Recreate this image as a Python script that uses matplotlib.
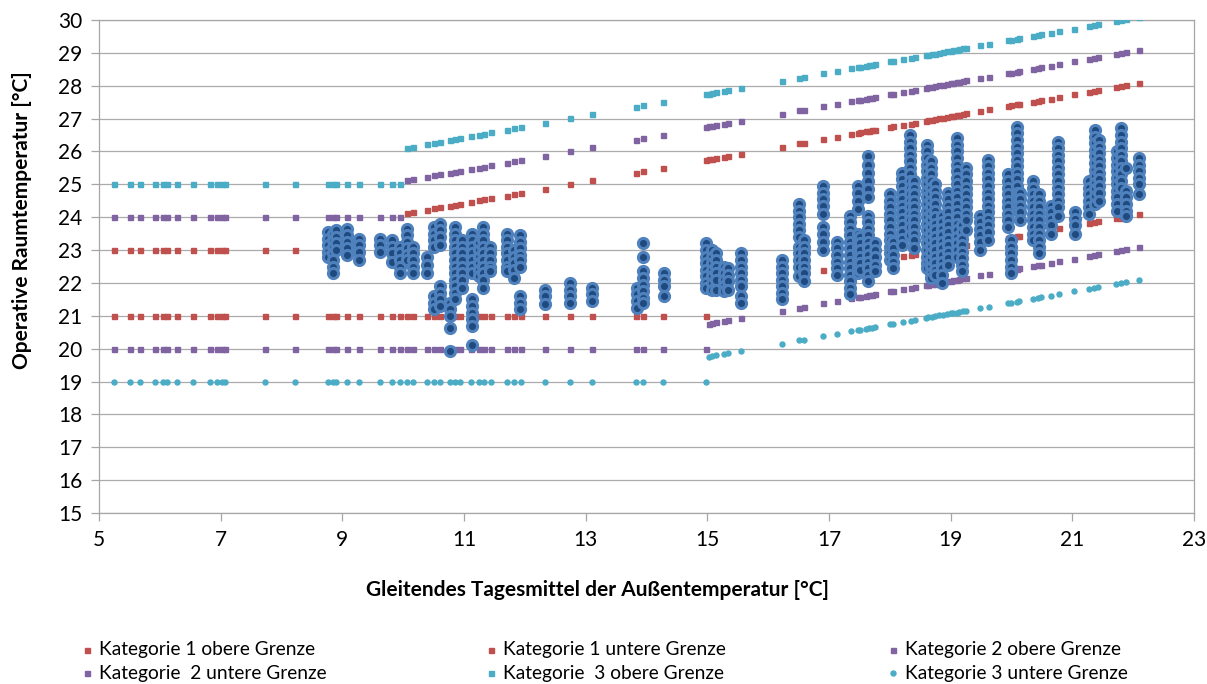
import matplotlib.pyplot as plt
from matplotlib.lines import Line2D

plt.rcParams['font.family'] = ['Lato', 'DejaVu Sans']

# Gleitendes Tagesmittel der Außentemperatur je Tag [°C]
tage_kalt = [5.24, 5.51, 5.68, 5.92, 6.06, 6.12, 6.29, 6.55, 6.83, 6.94, 7.03,
             7.07, 7.73, 8.22, 8.76, 8.85, 8.90, 9.07, 9.28, 9.62, 9.81, 9.95]
tage_mittel = [10.07, 10.16, 10.40, 10.51, 10.61, 10.77, 10.85, 10.93, 11.12, 11.24, 11.33,
               11.44, 11.70, 11.82, 11.94, 12.33, 12.75, 13.11, 13.83, 13.94, 14.27, 14.97]
tage_warm = [15.03, 15.07, 15.15, 15.27, 15.34, 15.55, 16.22, 16.50, 16.59, 16.90, 17.13,
             17.36, 17.47, 17.51, 17.60, 17.65, 17.70, 17.76, 18.00, 18.05, 18.21, 18.34,
             18.41, 18.59, 18.63, 18.69, 18.74, 18.81, 18.88, 18.94, 19.00, 19.04, 19.10,
             19.14, 19.20, 19.26, 19.49, 19.63, 19.95, 20.00, 20.09, 20.13, 20.36, 20.43,
             20.49, 20.65, 20.78, 21.03, 21.27, 21.36, 21.43, 21.72, 21.80, 21.89, 22.10]
tage = tage_kalt + tage_mittel + tage_warm

# Grenzwerte [°C]
kat1_oben = [23.0] * 22 + [
    24.12, 24.15, 24.23, 24.27, 24.30, 24.35, 24.38, 24.41, 24.47, 24.51, 24.54,
    24.58, 24.66, 24.70, 24.74, 24.87, 25.01, 25.13, 25.36, 25.40, 25.51, 25.74,
    25.76, 25.77, 25.80, 25.84, 25.86, 25.93, 26.15, 26.25, 26.27, 26.38, 26.45,
    26.53, 26.57, 26.58, 26.61, 26.62, 26.64, 26.66, 26.74, 26.76, 26.81, 26.85,
    26.88, 26.93, 26.95, 26.97, 26.98, 27.01, 27.03, 27.05, 27.07, 27.08, 27.10,
    27.12, 27.14, 27.16, 27.23, 27.28, 27.38, 27.40, 27.43, 27.44, 27.52, 27.54,
    27.56, 27.61, 27.66, 27.74, 27.82, 27.85, 27.87, 27.97, 27.99, 28.02, 28.09]
kat2_oben = [24.0] * 22 + [
    25.12, 25.15, 25.23, 25.27, 25.30, 25.35, 25.38, 25.41, 25.47, 25.51, 25.54,
    25.58, 25.66, 25.70, 25.74, 25.87, 26.01, 26.13, 26.36, 26.40, 26.51, 26.74,
    26.76, 26.77, 26.80, 26.84, 26.86, 26.93, 27.15, 27.25, 27.27, 27.38, 27.45,
    27.53, 27.57, 27.58, 27.61, 27.62, 27.64, 27.66, 27.74, 27.76, 27.81, 27.85,
    27.88, 27.93, 27.95, 27.97, 27.98, 28.01, 28.03, 28.05, 28.07, 28.08, 28.10,
    28.12, 28.14, 28.16, 28.23, 28.28, 28.38, 28.40, 28.43, 28.44, 28.52, 28.54,
    28.56, 28.61, 28.66, 28.74, 28.82, 28.85, 28.87, 28.97, 28.99, 29.02, 29.09]
kat3_oben = [25.0] * 22 + [
    26.12, 26.15, 26.23, 26.27, 26.30, 26.35, 26.38, 26.41, 26.47, 26.51, 26.54,
    26.58, 26.66, 26.70, 26.74, 26.87, 27.01, 27.13, 27.36, 27.40, 27.51, 27.74,
    27.76, 27.77, 27.80, 27.84, 27.86, 27.93, 28.15, 28.25, 28.27, 28.38, 28.45,
    28.53, 28.57, 28.58, 28.61, 28.62, 28.64, 28.66, 28.74, 28.76, 28.81, 28.85,
    28.88, 28.93, 28.95, 28.97, 28.98, 29.01, 29.03, 29.05, 29.07, 29.08, 29.10,
    29.12, 29.14, 29.16, 29.23, 29.28, 29.38, 29.40, 29.43, 29.44, 29.52, 29.54,
    29.56, 29.61, 29.66, 29.74, 29.82, 29.85, 29.87, 29.97, 29.99, 30.02, 30.09]
kat1_unten = [21.0] * 44 + [
    21.76, 21.77, 21.80, 21.84, 21.86, 21.93, 22.15, 22.25, 22.27, 22.38, 22.45,
    22.53, 22.57, 22.58, 22.61, 22.62, 22.64, 22.66, 22.74, 22.76, 22.81, 22.85,
    22.88, 22.93, 22.95, 22.97, 22.98, 23.01, 23.03, 23.05, 23.07, 23.08, 23.10,
    23.12, 23.14, 23.16, 23.23, 23.28, 23.38, 23.40, 23.43, 23.44, 23.52, 23.54,
    23.56, 23.61, 23.66, 23.74, 23.82, 23.85, 23.87, 23.97, 23.99, 24.02, 24.09]
kat2_unten = [20.0] * 44 + [
    20.76, 20.77, 20.80, 20.84, 20.86, 20.93, 21.15, 21.25, 21.27, 21.38, 21.45,
    21.53, 21.57, 21.58, 21.61, 21.62, 21.64, 21.66, 21.74, 21.76, 21.81, 21.85,
    21.88, 21.93, 21.95, 21.97, 21.98, 22.01, 22.03, 22.05, 22.07, 22.08, 22.10,
    22.12, 22.14, 22.16, 22.23, 22.28, 22.38, 22.40, 22.43, 22.44, 22.52, 22.54,
    22.56, 22.61, 22.66, 22.74, 22.82, 22.85, 22.87, 22.97, 22.99, 23.02, 23.09]
kat3_unten = [19.0] * 44 + [
    19.76, 19.77, 19.80, 19.84, 19.86, 19.93, 20.15, 20.25, 20.27, 20.38, 20.45,
    20.53, 20.57, 20.58, 20.61, 20.62, 20.64, 20.66, 20.74, 20.76, 20.81, 20.85,
    20.88, 20.93, 20.95, 20.97, 20.98, 21.01, 21.03, 21.05, 21.07, 21.08, 21.10,
    21.12, 21.14, 21.16, 21.23, 21.28, 21.38, 21.40, 21.43, 21.44, 21.52, 21.54,
    21.56, 21.61, 21.66, 21.74, 21.82, 21.85, 21.87, 21.97, 21.99, 22.02, 22.09]

# Gemessene operative Raumtemperatur je Tag [°C]
mess_x = [8.76, 8.85, 8.90, 9.07, 9.28, 9.62, 9.81, 9.95, 10.07, 10.16, 10.40, 10.51,
          10.61, 10.77, 10.85, 10.96, 11.13, 11.24, 11.32, 11.43, 11.70, 11.83, 11.92,
          12.33, 12.75, 13.11, 13.84, 13.94, 14.28, 14.97, 15.07, 15.15, 15.27, 15.34,
          15.55, 16.22, 16.50, 16.59, 16.90, 17.13, 17.35, 17.47, 17.51, 17.64, 17.76,
          18.00, 18.05, 18.20, 18.33, 18.40, 18.61, 18.67, 18.74, 18.85, 18.95, 19.10,
          19.19, 19.26, 19.48, 19.62, 19.95, 20.00, 20.09, 20.14, 20.35, 20.46, 20.65,
          20.77, 21.05, 21.28, 21.37, 21.44, 21.73, 21.80, 21.89, 22.09]
mess_t = [
    [23.55, 23.35, 23.15, 22.95, 22.8],
    [23.5, 23.3, 23.1, 22.9, 22.7, 22.5, 22.3],
    [23.6, 23.4, 23.2, 23.0],
    [23.65, 23.45, 23.25, 23.05, 22.85],
    [23.35, 23.15, 22.95, 22.7],
    [23.35, 23.15, 22.95],
    [23.3, 23.1, 22.9, 22.65],
    [23.1, 22.9, 22.7, 22.5, 22.3],
    [23.65, 23.45, 23.25, 23.05, 22.85, 22.7],
    [23.1, 22.9, 22.7, 22.5, 22.3],
    [22.8, 22.55, 22.3],
    [23.7, 23.5, 23.3, 23.1, 21.6, 21.4, 21.2],
    [23.8, 23.6, 23.4, 23.15, 21.9, 21.7, 21.5, 21.3],
    [21.4, 21.2, 21.0, 20.62, 19.93],
    [23.7, 23.5, 23.3, 23.1, 22.9, 22.7, 22.5, 22.3, 22.1, 21.9, 21.7, 21.5],
    [23.3, 23.1, 22.9, 22.7, 22.5, 22.3, 22.1, 21.85],
    [23.5, 23.3, 23.1, 22.9, 22.7, 22.5, 22.3, 21.5, 21.3, 21.1, 20.9, 20.7, 20.1],
    [23.2, 23.0, 22.8, 22.6, 22.4, 22.2],
    [23.7, 23.5, 23.3, 23.1, 22.9, 22.7, 22.5, 22.3, 22.1, 21.85],
    [23.1, 22.9, 22.7, 22.5, 22.35],
    [23.5, 23.3, 23.1, 22.9, 22.7, 22.5, 22.35],
    [23.0, 22.8, 22.6, 22.4, 22.15],
    [23.45, 23.25, 23.05, 22.85, 22.7, 22.5, 21.6, 21.4, 21.2],
    [21.8, 21.6, 21.35],
    [22.0, 21.8, 21.6, 21.4],
    [21.85, 21.65, 21.45],
    [21.85, 21.65, 21.45, 21.25],
    [23.2, 22.8, 22.35, 22.15, 21.95, 21.75, 21.55, 21.4],
    [22.3, 22.1, 21.9, 21.6],
    [23.2, 23.0, 22.8, 22.6, 22.4, 22.2, 22.0, 21.85],
    [23.0, 22.8, 22.6, 22.4, 22.2, 22.0, 21.8],
    [22.9, 22.7, 22.5, 22.3, 22.1, 21.8],
    [22.5, 22.3, 22.1, 21.9, 21.75],
    [22.45, 22.25, 22.05, 21.8],
    [22.9, 22.7, 22.5, 22.3, 22.1, 21.9, 21.6, 21.4],
    [22.7, 22.5, 22.3, 22.1, 21.9, 21.7, 21.5],
    [24.4, 24.2, 24.0, 23.8, 23.6, 23.4, 23.1, 22.9, 22.7, 22.5, 22.2],
    [23.3, 23.1, 22.9, 22.7, 22.5, 22.3, 22.05],
    [24.95, 24.75, 24.55, 24.35, 24.1, 23.7, 23.5, 23.25, 23.0],
    [23.25, 23.05, 22.85, 22.65, 22.45, 22.25],
    [24.05, 23.85, 23.65, 23.45, 23.25, 23.05, 22.85, 22.65, 22.45, 22.25, 22.05, 21.85, 21.65],
    [24.95, 24.75, 24.5, 24.25, 23.5, 23.3, 23.1, 22.9, 22.7, 22.5, 22.3],
    [23.4, 23.2, 23.0, 22.8, 22.6, 22.4],
    [25.85, 25.6, 25.35, 25.1, 24.85, 24.6, 24.05, 23.85, 23.65, 23.45, 23.25, 23.05,
     22.85, 22.65, 22.45, 22.25, 22.05],
    [23.2, 23.0, 22.8, 22.55, 22.35],
    [24.7, 24.5, 24.3, 24.1, 23.9, 23.7, 23.5, 23.3, 23.1, 22.9, 22.7],
    [23.25, 23.05, 22.85, 22.65, 22.45],
    [25.35, 25.15, 24.95, 24.75, 24.55, 24.35, 24.15, 23.95, 23.75, 23.55, 23.35, 23.15],
    [26.5, 26.3, 26.1, 25.9, 25.7, 25.5, 25.3, 25.1, 24.9, 24.7, 24.5, 24.3, 24.1, 23.9,
     23.7, 23.45],
    [25.1, 24.9, 24.7, 24.5, 24.3, 24.1, 23.9, 23.7, 23.5, 23.3, 23.05],
    [26.2, 26.0, 25.8, 25.6, 25.4, 25.2, 25.0, 24.8, 24.6, 24.4, 24.2, 24.0, 23.8, 23.6,
     23.4, 23.2, 23.0, 22.8, 22.6, 22.45],
    [25.7, 25.5, 25.3, 25.1, 24.9, 24.7, 24.5, 24.3, 24.1, 23.9, 23.7, 23.5, 23.3, 23.1,
     22.9, 22.7, 22.5, 22.3, 22.15],
    [25.0, 24.8, 24.6, 24.4, 24.2, 24.0, 23.8, 23.6, 23.4, 23.2, 23.0, 22.8, 22.6, 22.4, 22.25],
    [24.05, 23.85, 23.65, 23.45, 23.25, 23.05, 22.85, 22.65, 22.45, 22.25, 22.0],
    [24.75, 24.55, 24.35, 24.15, 23.95, 23.75, 23.55, 23.35, 23.15, 22.95, 22.75, 22.55],
    [26.4, 26.2, 26.0, 25.8, 25.6, 25.4, 25.2, 25.0, 24.8, 24.6, 24.4, 24.2, 24.0, 23.8,
     23.6, 23.4, 23.2, 23.0, 22.8],
    [23.75, 23.55, 23.35, 23.15, 22.95, 22.75, 22.55, 22.35],
    [25.5, 25.3, 25.1, 24.9, 24.7, 24.5, 24.3, 24.1, 23.9, 23.6],
    [24.05, 23.85, 23.65, 23.45, 23.25, 23.0],
    [25.75, 25.55, 25.35, 25.15, 24.95, 24.75, 24.55, 24.35, 24.15, 23.95, 23.75, 23.55, 23.3],
    [25.3, 25.1, 24.9, 24.7, 24.5, 24.3, 24.1, 23.9, 23.7],
    [23.3, 23.1, 22.9, 22.7, 22.5, 22.3],
    [26.75, 26.55, 26.35, 26.15, 25.95, 25.75, 25.55, 25.35, 25.15, 24.95, 24.75, 24.55, 24.35],
    [24.75, 24.55, 24.35, 24.15, 23.9],
    [25.1, 24.9, 24.7, 24.5, 24.3, 24.1, 23.9, 23.7, 23.5, 23.3],
    [24.7, 24.5, 24.3, 24.1, 23.9, 23.7, 23.5, 23.3, 23.1, 22.9],
    [24.35, 24.15, 23.95, 23.75, 23.5],
    [26.3, 26.1, 25.9, 25.7, 25.5, 25.3, 25.1, 24.9, 24.7, 24.5, 24.3, 24.05],
    [24.15, 23.95, 23.75, 23.5],
    [25.1, 24.9, 24.7, 24.5, 24.3, 24.1],
    [26.65, 26.45, 26.25, 26.05, 25.85, 25.65, 25.45, 25.25, 25.05, 24.85, 24.65, 24.4],
    [26.35, 26.15, 25.95, 25.75, 25.55, 25.35, 25.15, 24.95, 24.75, 24.5],
    [26.0, 25.8, 25.6, 25.4, 25.2, 25.0, 24.8, 24.6, 24.4, 24.2],
    [26.7, 26.5, 26.3, 26.1, 25.9, 25.7, 25.5, 25.3, 25.1, 24.9],
    [25.5, 24.8, 24.6, 24.4, 24.2, 24.05],
    [25.8, 25.6, 25.4, 25.2, 25.0, 24.7],
]

rot = '#c0504d'
lila = '#8064a2'
tuerkis = '#4bacc6'

fig = plt.figure(figsize=(12.07, 6.84), dpi=100)
ax = fig.add_axes([99 / 1207, 1 - 513 / 684, 1095 / 1207, 493 / 684])

ax.plot(tage, kat1_oben, ls='none', marker='s', ms=3.6, color=rot, zorder=3)
ax.plot(tage, kat1_unten, ls='none', marker='s', ms=3.6, color=rot, zorder=3)
ax.plot(tage, kat2_oben, ls='none', marker='s', ms=3.6, color=lila, zorder=3)
ax.plot(tage, kat2_unten, ls='none', marker='s', ms=3.6, color=lila, zorder=3)
ax.plot(tage, kat3_oben, ls='none', marker='s', ms=3.6, color=tuerkis, zorder=3)
ax.plot(tage, kat3_unten, ls='none', marker='o', ms=3.6, color=tuerkis, zorder=3)

punkte_x = []
punkte_t = []
for x, werte in zip(mess_x, mess_t):
    punkte_x += [x] * len(werte)
    punkte_t += werte
ax.plot(punkte_x, punkte_t, ls='none', marker='o', ms=7.3, mfc='#1f4a80',
        mec='#4f81bd', mew=2.2, zorder=4)

ax.set_xlim(5, 23)
ax.set_ylim(15, 30)
ax.set_xticks(range(5, 24, 2))
ax.set_yticks(range(15, 31))
ax.grid(axis='y', color='#ababab', lw=0.9)
ax.set_axisbelow(True)
for s in ax.spines.values():
    s.set_color('#a6a6a6')
    s.set_linewidth(0.9)
ax.tick_params(direction='out', length=6, width=0.9, color='#a6a6a6',
               labelsize=15, pad=6)

fig.text(597 / 1207, 1 - 590 / 684, 'Gleitendes Tagesmittel der Außentemperatur [°C]',
         ha='center', va='center', fontsize=15, fontweight='bold')
fig.text(22 / 1207, 1 - 220 / 684, 'Operative Raumtemperatur [°C]', rotation=90,
         ha='center', va='center', fontsize=15, fontweight='bold')

# Legende
eintraege = [
    (87, 650, 'Kategorie 1 obere Grenze', rot, 's'),
    (491, 650, 'Kategorie 1 untere Grenze', rot, 's'),
    (893, 650, 'Kategorie 2 obere Grenze', lila, 's'),
    (87, 673, 'Kategorie  2 untere Grenze', lila, 's'),
    (491, 673, 'Kategorie  3 obere Grenze', tuerkis, 's'),
    (893, 673, 'Kategorie 3 untere Grenze', tuerkis, 'o'),
]
for px, py, text, farbe, m in eintraege:
    fig.add_artist(Line2D([px / 1207], [1 - py / 684], transform=fig.transFigure,
                          ls='none', marker=m, ms=3.6, color=farbe))
    fig.text((px + 12) / 1207, 1 - py / 684, text, ha='left', va='center', fontsize=13.8)

fig.savefig('out.png', dpi=100)
